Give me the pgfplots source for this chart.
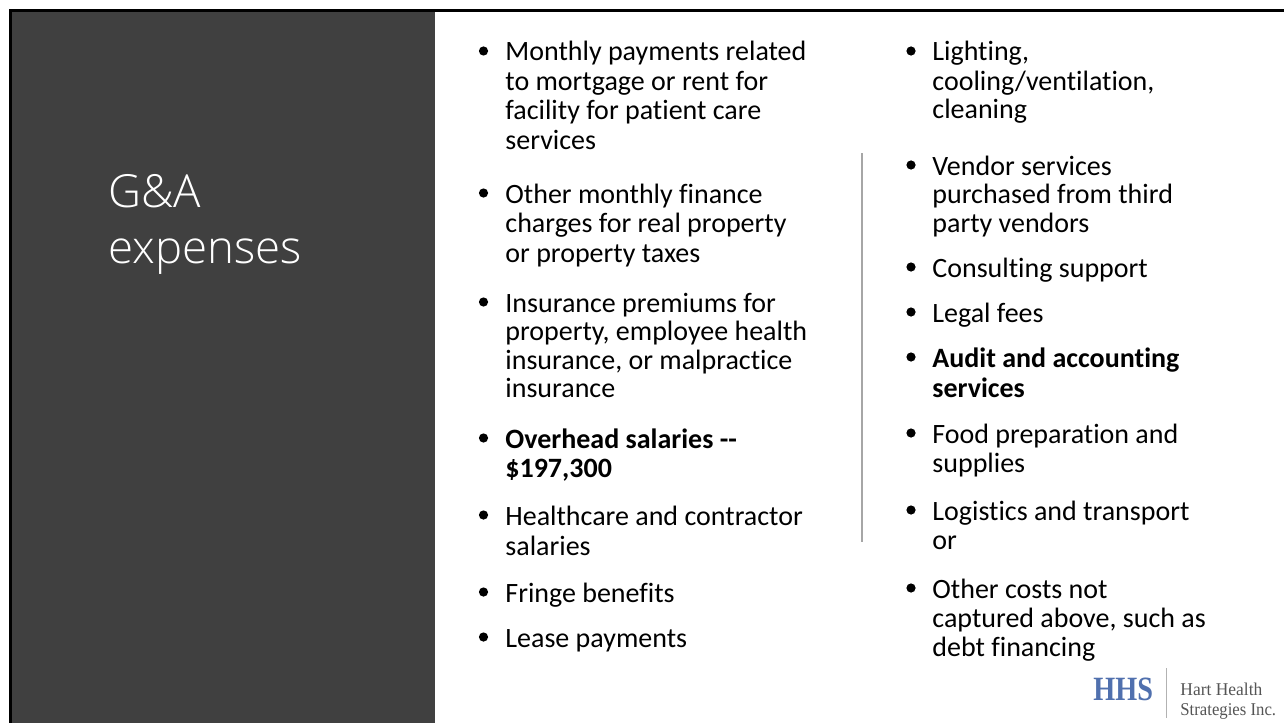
\documentclass[border=0pt]{standalone}
\usepackage{pgfplots}
\pgfplotsset{compat=1.18}
\usepackage{fontspec}
\setmainfont{Carlito}[Ligatures={TeX,NoCommon}]
\newfontfamily\titlefont{Open Sans}[UprightFont={* Light}]
\newfontfamily\logofont{Liberation Serif}

\definecolor{panel}{HTML}{404040}
\definecolor{hhsblue}{HTML}{5070AE}
\definecolor{logogray}{HTML}{555555}

% one line of body text, placed on its baseline (pixel coordinates)
\newcommand{\bl}[3]{\node[anchor=base west, inner sep=0pt, font=\fontsize{14bp}{14bp}\selectfont] at (axis cs:#1,#2) {#3};}
% bullet dot, centred a little above the baseline
\newcommand{\bul}[2]{\fill (axis cs:#1,#2-10) circle[radius=2.3bp];}

\begin{document}
\begin{tikzpicture}
\begin{axis}[
  scale only axis, width=642bp, height=361.5bp,
  xmin=0, xmax=1284, ymin=0, ymax=723, y dir=reverse,
  hide axis, clip=false,
]
% slide background, frame and title panel
\fill[white] (axis cs:0,0) rectangle (axis cs:1284,723);
\fill[black] (axis cs:9,9) rectangle (axis cs:1284,12);
\fill[black] (axis cs:9,9) rectangle (axis cs:12,723);
\fill[panel] (axis cs:12,12) rectangle (axis cs:435,723);

\node[anchor=base west, inner sep=0pt, text=white, font=\titlefont\fontsize{22.8bp}{22.8bp}\selectfont] at (axis cs:108,207) {G\&A};
\node[anchor=base west, inner sep=0pt, text=white, font=\titlefont\fontsize{22.8bp}{22.8bp}\selectfont] at (axis cs:108,263) {expenses};

% column divider
\draw[gray!70, line width=0.6bp] (axis cs:862,153) -- (axis cs:862,542);

% left column
\bul{483.5}{61}
\bl{505}{61}{Monthly payments related}
\bl{505}{90}{to mortgage or rent for}
\bl{505}{119}{facility for patient care}
\bl{505}{149}{services}
\bul{483.5}{203}
\bl{505}{203}{Other monthly finance}
\bl{505}{232}{charges for real property}
\bl{505}{262}{or property taxes}
\bul{483.5}{312}
\bl{505}{312}{Insurance premiums for}
\bl{505}{340}{property, employee health}
\bl{505}{369}{insurance, or malpractice}
\bl{505}{397}{insurance}
\bul{483.5}{448}
\bl{505}{448}{\bfseries Overhead salaries -{}-}
\bl{505}{477}{\bfseries \$197,300}
\bul{483.5}{525}
\bl{505}{525}{Healthcare and contractor}
\bl{505}{555}{salaries}
\bul{483.5}{602}
\bl{505}{602}{Fringe benefits}
\bul{483.5}{647}
\bl{505}{647}{Lease payments}

% right column
\bul{911}{61}
\bl{932}{61}{Lighting,}
\bl{932}{90}{cooling/ventilation,}
\bl{932}{118}{cleaning}
\bul{911}{175}
\bl{932}{175}{Vendor services}
\bl{932}{203}{purchased from third}
\bl{932}{232}{party vendors}
\bul{911}{277}
\bl{932}{277}{Consulting support}
\bul{911}{322}
\bl{932}{322}{Legal fees}
\bul{911}{367}
\bl{932}{367}{\bfseries Audit and accounting}
\bl{932}{397}{\bfseries services}
\bul{911}{443}
\bl{932}{443}{Food preparation and}
\bl{932}{472}{supplies}
\bul{911}{520}
\bl{932}{520}{Logistics and transport}
\bl{932}{549}{or}
\bul{911}{598}
\bl{932}{598}{Other costs not}
\bl{932}{627}{captured above, such as}
\bl{932}{656}{debt financing}

% logo
\node[anchor=base west, inner sep=0pt, text=hhsblue, xscale=0.83, font=\logofont\bfseries\fontsize{17bp}{17bp}\selectfont] at (axis cs:1093,700) {HHS};
\draw[gray!60, line width=0.5bp] (axis cs:1166,668) -- (axis cs:1166,718);
\node[anchor=base west, inner sep=0pt, text=logogray, xscale=0.97, font=\logofont\fontsize{9bp}{9bp}\selectfont] at (axis cs:1180,695) {Hart Health};
\node[anchor=base west, inner sep=0pt, text=logogray, xscale=0.93, font=\logofont\fontsize{9bp}{9bp}\selectfont] at (axis cs:1180,715) {Strategies Inc.};
\end{axis}
\end{tikzpicture}
\end{document}
